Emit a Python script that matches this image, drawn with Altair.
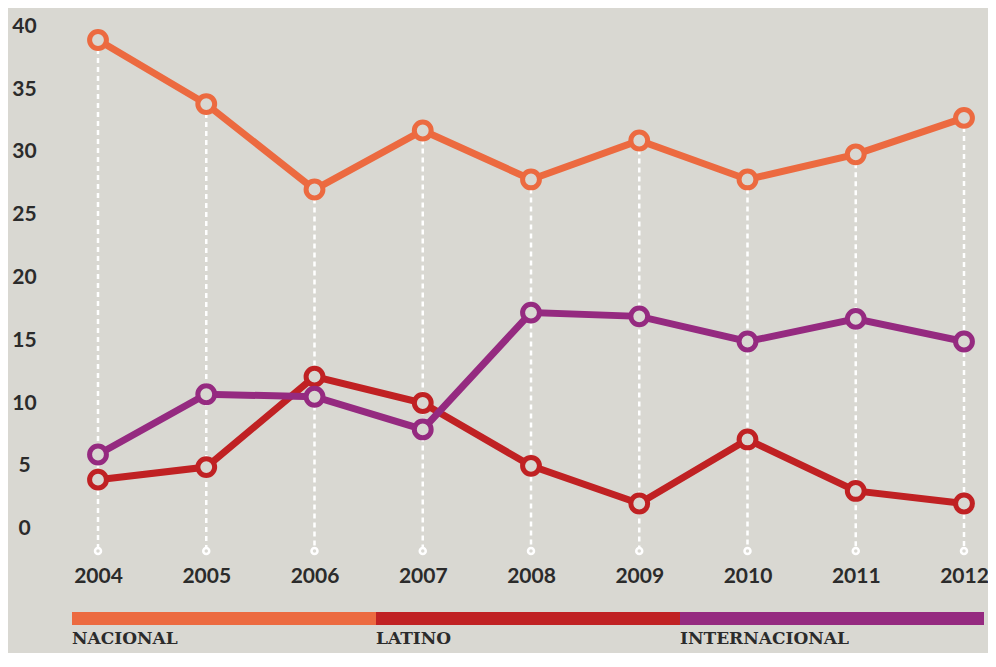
import altair as alt
import pandas as pd

years = [2004, 2005, 2006, 2007, 2008, 2009, 2010, 2011, 2012]
nacional = [38.9, 33.8, 27.0, 31.7, 27.8, 30.9, 27.8, 29.8, 32.7]
latino = [3.9, 4.9, 12.1, 10.0, 5.0, 2.0, 7.1, 3.0, 2.0]
internacional = [5.9, 10.7, 10.5, 7.9, 17.2, 16.9, 14.9, 16.7, 14.9]
series_names = ["NACIONAL", "LATINO", "INTERNACIONAL"]
series_colors = ["#ec6a40", "#c02123", "#952a80"]
y_ticks = [0, 5, 10, 15, 20, 25, 30, 35, 40]

BG = "#d9d8d2"
TEXT = "#2b2b2b"
Y_DOMAIN = [-1.78, 41.45]
X_DOMAIN = [2003.5381, 2012.2217]
W, H = 940, 543

rows = []
for name, vals in zip(series_names, [nacional, latino, internacional]):
    for yr, v in zip(years, vals):
        rows.append({"year": yr, "value": v, "series": name})
df = pd.DataFrame(rows)

guide = pd.DataFrame({
    "year": years,
    "value": [max(a, b, c) for a, b, c in zip(nacional, latino, internacional)],
    "base": [Y_DOMAIN[0]] * len(years),
})

legend_df = pd.DataFrame({
    "series": series_names,
    "i0": [0, 1, 2],
    "i1": [1, 2, 3],
})

x_axis = alt.Axis(values=years, format="d", title=None, domain=False, ticks=False,
                  grid=False, labelFont="Lato", labelFontWeight="bold", labelFontSize=21,
                  labelColor=TEXT, labelBaseline="middle", labelPadding=25, labelAlign="center")
y_axis = alt.Axis(values=y_ticks, title=None, domain=False, ticks=False, grid=False,
                  labelFont="Lato", labelFontWeight="bold", labelFontSize=21,
                  labelColor=TEXT, labelAlign="center", labelBaseline="middle", labelPadding=24)

def xe(field="year"):
    return alt.X(f"{field}:Q", scale=alt.Scale(domain=X_DOMAIN, nice=False, zero=False), axis=x_axis)

def ye(field="value"):
    return alt.Y(f"{field}:Q", scale=alt.Scale(domain=Y_DOMAIN, nice=False, zero=False), axis=y_axis)

color = alt.Color("series:N", scale=alt.Scale(domain=series_names, range=series_colors), legend=None)
stroke = alt.Stroke("series:N", scale=alt.Scale(domain=series_names, range=series_colors), legend=None)

rules = alt.Chart(guide).mark_rule(color="white", strokeWidth=2.5, strokeDash=[5, 4]).encode(
    x=xe(), y=ye(), y2="base:Q"
)
dots = alt.Chart(guide).mark_point(shape="circle", filled=True, fill=BG, stroke="white",
                                   strokeWidth=2.5, size=36, opacity=1).encode(
    x=xe(), y=ye("base")
)

layers = [rules, dots]
for name in series_names:
    sub = df[df["series"] == name]
    line = alt.Chart(sub).mark_line(strokeWidth=7).encode(x=xe(), y=ye(), color=color)
    pts = alt.Chart(sub).mark_point(shape="circle", filled=True, fill=BG, strokeWidth=5,
                                    size=283, opacity=1).encode(x=xe(), y=ye(), stroke=stroke)
    layers += [line, pts]

main = alt.layer(*layers)

lx = alt.X("i0:Q", scale=alt.Scale(domain=[0, 3], range=[24, 936], nice=False, zero=False), axis=None)
bars = alt.Chart(legend_df).mark_rect().encode(
    x=lx, x2="i1:Q", y=alt.value(604), y2=alt.value(617), color=color
)
labels = alt.Chart(legend_df).mark_text(align="left", baseline="alphabetic", font="DejaVu Serif",
                                        fontWeight="bold", fontSize=17, color=TEXT).encode(
    x=lx, y=alt.value(636), text="series:N"
)
legend = alt.layer(bars, labels)

chart = alt.layer(main, legend).resolve_scale(x="independent").properties(
    width=W, height=H, autosize="none",
    padding={"left": 40, "top": 0, "right": 0, "bottom": 102},
    background=BG,
).configure_view(stroke=None)

chart.save("out.html", embed_options={"renderer": "svg", "actions": False})
